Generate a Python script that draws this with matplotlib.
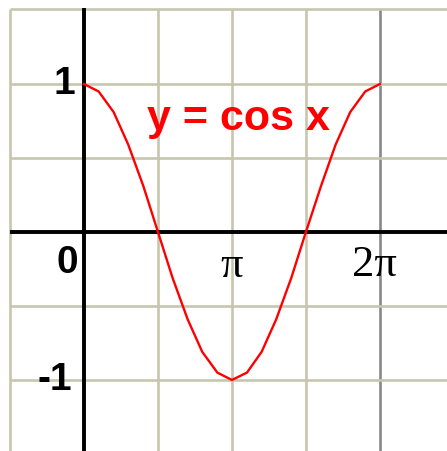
import numpy as np
import matplotlib.pyplot as plt

# sample points of the curve (step pi/10)
x_vals = [0.0, 0.31, 0.63, 0.94, 1.26, 1.57, 1.88, 2.2, 2.51, 2.83, 3.14,
          3.46, 3.77, 4.08, 4.4, 4.71, 5.03, 5.34, 5.65, 5.97, 6.28]
y_vals = [1.0, 0.95, 0.81, 0.59, 0.31, 0.0, -0.31, -0.59, -0.81, -0.95, -1.0,
          -0.95, -0.81, -0.59, -0.31, 0.0, 0.31, 0.59, 0.81, 0.95, 1.0]

# grid positions
x_grid = [-np.pi / 2, 0, np.pi / 2, np.pi, 3 * np.pi / 2, 2 * np.pi]
y_grid = [-1.0, -0.5, 0.0, 0.5, 1.0, 1.5]

# axis labels
y_labels = ["1", "0", "-1"]
x_labels = ["\u03c0", "2\u03c0"]

fig = plt.figure(figsize=(4.47, 4.51), dpi=100)
ax = fig.add_axes([0, 0, 1, 1])
xmin, xmax = -1.783, 7.705
ymin, ymax = -1.48, 1.568
ax.set_xlim(xmin, xmax)
ax.set_ylim(ymin, ymax)
ax.axis("off")

grid_col = "#c6c6ae"
top = 1.51
for gx in x_grid:
    col = "#888888" if gx == 2 * np.pi else grid_col
    ax.plot([gx, gx], [ymin, top], color=col, lw=1.9, zorder=1, solid_capstyle="butt")
for gy in y_grid:
    yy = top if gy == 1.5 else gy
    ax.plot([-np.pi / 2 - 0.01, xmax], [yy, yy], color=grid_col, lw=1.9, zorder=1,
            solid_capstyle="butt")

# axes
ax.plot([-np.pi / 2 - 0.01, xmax], [0, 0], color="black", lw=2.8, zorder=2,
        solid_capstyle="butt")
ax.plot([0, 0], [ymin, top + 0.005], color="black", lw=2.8, zorder=2,
        solid_capstyle="butt")

# cosine curve
ax.plot(x_vals, y_vals, color="#ff0000", lw=1.7, zorder=3)

ax.text(3.28, 0.689, "y = cos x", color="#ff0000", fontsize=31,
        fontweight="bold", family="Liberation Sans", ha="center", va="baseline")

bold = dict(fontsize=28, fontweight="bold", family="Liberation Sans",
            ha="center", va="center", color="black")
ax.text(-0.42, 1.0, y_labels[0], **bold)
ax.text(-0.36, -0.21, y_labels[1], **bold)
ax.text(-0.62, -1.0, y_labels[2], **bold)

serif = dict(fontsize=32, family="Liberation Serif", ha="center",
             va="center", color="black")
ax.text(np.pi, -0.23, x_labels[0], **serif)
ax.text(6.16, -0.22, x_labels[1], **serif)

fig.savefig("out.png", dpi=100)
